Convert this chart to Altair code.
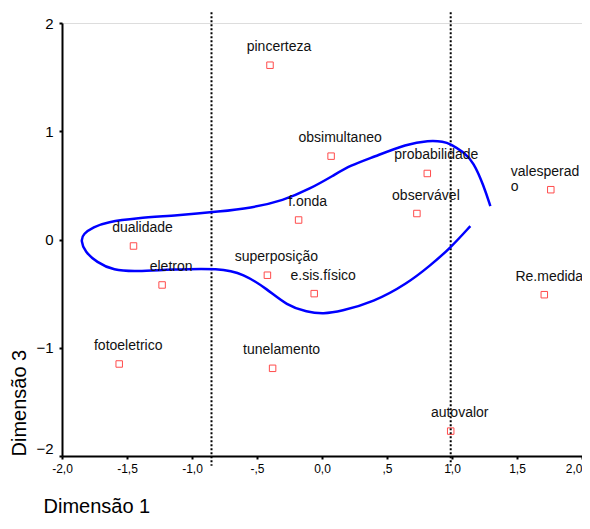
import altair as alt
import pandas as pd

# ---- data ----
labels = ["pincerteza", "obsimultaneo", "probabilidade", "valesperado", "observável",
          "f.onda", "dualidade", "superposição", "e.sis.físico", "eletron",
          "Re.medida", "fotoeletrico", "tunelamento", "autovalor"]
dim1 = [-0.40, 0.07, 0.81, 1.76, 0.73, -0.18, -1.45, -0.42, -0.06, -1.23, 1.71, -1.56, -0.38, 0.99]
dim3 = [1.61, 0.77, 0.61, 0.46, 0.24, 0.18, -0.06, -0.33, -0.50, -0.42, -0.51, -1.15, -1.19, -1.77]

# hand-drawn blue contour
curve_x = [1.295, 1.243, 1.166, 1.089, 0.987, 0.935, 0.820, 0.654, 0.396, 0.217, 0.089, -0.091,
           -0.296, -0.553, -0.784, -1.117, -1.425, -1.656, -1.759, -1.836, -1.856, -1.823, -1.733,
           -1.605, -1.425, -1.169, -0.784, -0.604, -0.424, -0.270, -0.116, 0.012, 0.140, 0.396,
           0.654, 0.833, 0.987, 1.141]
curve_y = [0.309, 0.499, 0.715, 0.808, 0.884, 0.906, 0.915, 0.884, 0.762, 0.684, 0.592, 0.469,
           0.360, 0.290, 0.259, 0.222, 0.198, 0.161, 0.115, 0.053, -0.009, -0.116, -0.209,
           -0.287, -0.296, -0.277, -0.264, -0.317, -0.456, -0.610, -0.671, -0.687, -0.665, -0.579,
           -0.409, -0.240, -0.079, 0.124]

ref_lines = [-0.85, 0.99]
ref_top, ref_bottom = 2.1, -2.09

x_ticks = [-2.0, -1.5, -1.0, -0.5, 0.0, 0.5, 1.0, 1.5, 2.0]
x_tick_labels = ["-2,0", "-1,5", "-1,0", "-,5", "0,0", ",5", "1,0", "1,5", "2,0"]
y_ticks = [-2, -1, 0, 1, 2]

FONT = "Liberation Sans"

pts = pd.DataFrame({"label": labels, "d1": dim1, "d3": dim3})
pts["disp"] = [l if l != "valesperado" else l[:-1] + "\n" + l[-1:] for l in labels]
curve = pd.DataFrame({"cx": curve_x, "cy": curve_y, "order": list(range(len(curve_x)))})
refs = pd.DataFrame({"rx": ref_lines, "top": [ref_top] * len(ref_lines), "bot": [ref_bottom] * len(ref_lines)})

xlab_expr = " : ".join(
    [f"datum.value == {v} ? '{t}'" for v, t in zip(x_ticks, x_tick_labels)]) + " : ''"

xscale = alt.Scale(domain=[-2, 2], nice=False, zero=False)
yscale = alt.Scale(domain=[-2, 2], nice=False, zero=False)

xaxis = alt.Axis(values=x_ticks, labelExpr=xlab_expr, title="Dimensão 1", grid=False,
                 labelFontSize=12, labelPadding=4, labelColor="black", labelFont=FONT,
                 labelAlign=alt.expr("datum.value == 2 ? 'right' : 'center'"),
                 tickSize=3, tickWidth=2, tickColor="black",
                 domainColor="black", domainWidth=2,
                 titleFont=FONT, titleFontSize=20, titleFontWeight="normal", titleColor="black",
                 titleX=-19, titleY=50, titleAlign="left", titleBaseline="middle")
yaxis = alt.Axis(values=y_ticks, format="d", title="Dimensão 3", grid=False,
                 labelFontSize=15, labelPadding=6, labelColor="black", labelFont=FONT,
                 labelBaseline=alt.expr("datum.value == -2 ? 'bottom' : 'middle'"),
                 tickSize=3, tickWidth=2, tickColor="black",
                 domainColor="black", domainWidth=2,
                 titleFont=FONT, titleFontSize=20, titleFontWeight="normal", titleColor="black",
                 titleAngle=270, titleX=-43, titleY=433, titleAlign="left", titleBaseline="middle")

base = alt.Chart(pts)

points = base.mark_point(shape="square", filled=False, size=42, color="#ff0000", strokeWidth=1).encode(
    x=alt.X("d1:Q", scale=xscale, axis=xaxis),
    y=alt.Y("d3:Q", scale=yscale, axis=yaxis),
)

text_main = base.transform_filter(
    "indexof(['valesperado','Re.medida'], datum.label) < 0"
).mark_text(
    align="center", baseline="alphabetic", dx=9, dy=-14, fontSize=14, font=FONT, color="#111111"
).encode(x="d1:Q", y="d3:Q", text="disp:N")

text_edge = base.transform_filter("datum.label == 'Re.medida'").mark_text(
    align="center", baseline="alphabetic", dx=5, dy=-14, fontSize=14, font=FONT, color="#111111"
).encode(x="d1:Q", y="d3:Q", text="disp:N")

text_wrap = base.transform_filter("datum.label == 'valesperado'").mark_text(
    align="left", baseline="alphabetic", dx=-40, dy=-14, fontSize=14, font=FONT, color="#111111",
    lineBreak="\n", lineHeight=15
).encode(x="d1:Q", y="d3:Q", text="disp:N")

rules = alt.Chart(refs).mark_rule(color="black", strokeWidth=2, strokeDash=[2, 2]).encode(
    x="rx:Q", y="top:Q", y2="bot:Q")

line = alt.Chart(curve).mark_line(color="#0000ff", strokeWidth=2.5, interpolate="basis").encode(
    x="cx:Q", y="cy:Q", order="order:Q")

chart = alt.layer(rules, line, points, text_main, text_edge, text_wrap).properties(
    width=520, height=433,
    autosize=alt.AutoSizeParams(type="none"),
    padding={"left": 54, "top": 15, "right": 0, "bottom": 59},
).configure_view(stroke="black", strokeWidth=2).configure(background="white")

chart.save("out.html", embed_options={"renderer": "svg", "actions": False})
